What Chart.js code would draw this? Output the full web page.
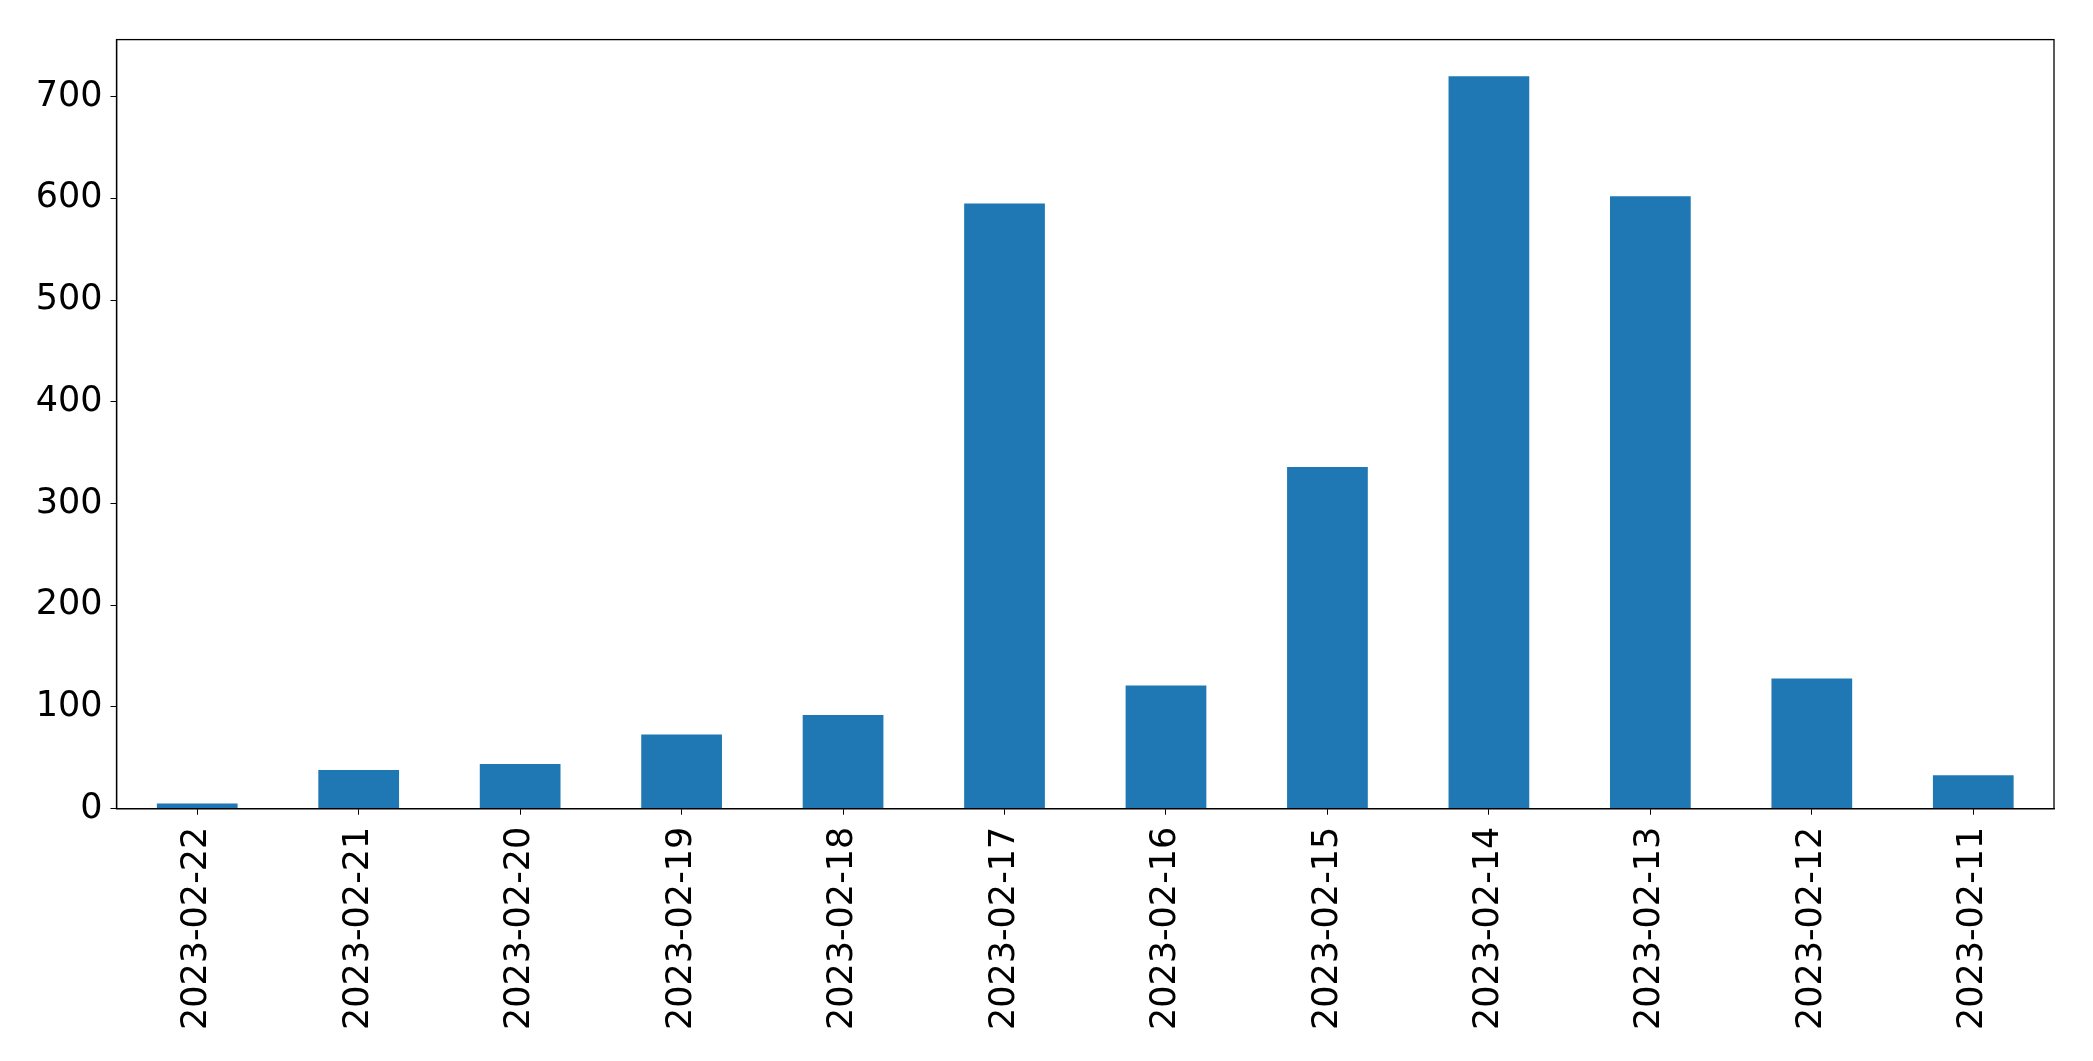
<!DOCTYPE html>
<html>
<head>
<meta charset="utf-8">
<script src="https://cdn.jsdelivr.net/npm/chart.js@4/dist/chart.umd.min.js"></script>
<style>
  html, body { margin: 0; padding: 0; background: #fff; }
  #wrap { width: 2093px; height: 1061px; }
</style>
</head>
<body>
<div id="wrap"><canvas id="barChart"></canvas></div>
<script>
var dates = ["2023-02-22", "2023-02-21", "2023-02-20", "2023-02-19", "2023-02-18", "2023-02-17",
             "2023-02-16", "2023-02-15", "2023-02-14", "2023-02-13", "2023-02-12", "2023-02-11"];
var counts = [5, 38, 44, 73, 92, 595, 121, 336, 720, 602, 128, 33];
var yTicks = [0, 100, 200, 300, 400, 500, 600, 700];

// draw the full box round the plot like matplotlib does
var frameBox = {
    id: 'frameBox',
    afterDraw: function(chart){
        var a = chart.chartArea, ctx = chart.ctx;
        ctx.save();
        ctx.strokeStyle = '#000';
        ctx.lineWidth = 1.3;
        ctx.strokeRect(a.left, a.top, a.right - a.left, a.bottom - a.top);
        ctx.restore();
    }
};

var font = { family: "'DejaVu Sans', sans-serif", size: 35 };

new Chart(document.getElementById('barChart'), {
    type: 'bar',
    data: {
        labels: dates,
        datasets: [{
            data: counts,
            backgroundColor: '#1f77b4',
            barPercentage: 0.5,
            categoryPercentage: 1.0
        }]
    },
    options: {
        responsive: true,
        maintainAspectRatio: false,
        devicePixelRatio: 1,
        animation: false,
        layout: { padding: { top: 39.6, right: 39, left: 0, bottom: 0 } },
        plugins: { legend: { display: false }, tooltip: { enabled: false } },
        scales: {
            x: {
                offset: true,
                grid: { drawOnChartArea: false, offset: false, tickLength: 6, color: '#000' },
                border: { color: '#000', width: 1.3 },
                ticks: { color: '#000', font: font, minRotation: 90, maxRotation: 90, padding: 12, autoSkip: false },
                afterFit: function(s){ s.height = 252.3; }
            },
            y: {
                min: 0,
                max: 756,
                grid: { drawOnChartArea: false, tickLength: 6, color: '#000' },
                border: { color: '#000', width: 1.3 },
                ticks: { color: '#000', font: font, padding: 8 },
                afterBuildTicks: function(s){
                    s.ticks = yTicks.map(function(v){ return { value: v }; });
                },
                afterFit: function(s){ s.width = 116.5; }
            }
        }
    },
    plugins: [frameBox]
});
</script>
</body>
</html>
